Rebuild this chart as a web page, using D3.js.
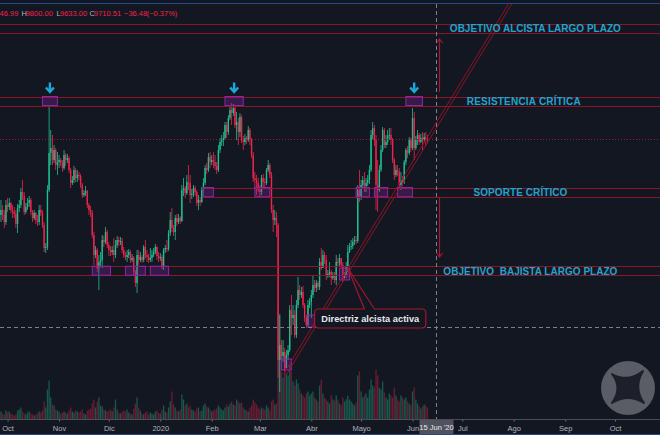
<!DOCTYPE html>
<html lang="es">
<head>
<meta charset="UTF-8">
<title>BTC diario - niveles clave</title>
<script src="https://d3js.org/d3.v7.min.js"></script>
<style>
  html, body { margin: 0; padding: 0; background: #131722; overflow: hidden; }
  svg { display: block; }
</style>
</head>
<body>
<script>
// velas diarias [máximo, mínimo, cierre], la apertura es el cierre anterior
const firstOpen = 8200;
const firstDay = "2019-09-27";
const sep19 = [[8500,8060,8300],[8400,8100,8200],[8300,7940,8060],[8500,8000,8400]];
const oct19 = [
  [8540,8260,8360],[8540,8300,8440],[8460,8240,8300],[8400,8140,8260],[8360,8140,8220],
  [8300,7940,8020],[8420,7840,8340],[8500,8260,8400],[8740,8340,8660],[8900,8500,8580],
  [8660,8200,8260],[8440,8220,8360],[8540,8300,8440],[8580,8360,8500],[8540,8200,8260],
  [8300,8060,8140],[8300,8100,8240],[8260,8020,8100],[8200,7980,8060],[8400,8000,8300],
  [8400,8180,8240],[8300,7940,8000],[8060,7460,7540],[7640,7440,7560],[8800,7500,8700],
  [10360,8660,9440],[9900,9200,9540],[9800,9200,9300],[9600,9240,9500],[9540,9100,9200],
  [9460,9000,9260]];
const nov19 = [
  [9400,9140,9300],[9340,9180,9240],[9300,9060,9140],[9500,9100,9400],[9440,9180,9300],
  [9420,9240,9340],[9380,9040,9100],[9140,8740,8840],[8980,8800,8900],[9180,8840,9100],
  [9140,8860,8940],[9100,8860,9000],[9060,8900,8980],[9020,8740,8800],[8840,8540,8600],
  [8700,8560,8640],[8780,8580,8680],[8700,8340,8400],[8440,8200,8300],[8380,8160,8240],
  [8300,7740,7800],[7860,7200,7400],[7580,7340,7500],[7540,7060,7140],[7400,6700,7260],
  [7460,7180,7300],[7800,7140,7700],[7780,7560,7660],[7960,7620,7860],[7900,7540,7600]];
const dec19 = [
  [7660,7380,7500],[7580,7380,7460],[7580,7400,7500],[7740,7260,7400],[7700,7340,7600],
  [7780,7540,7700],[7760,7580,7660],[7760,7600,7680],[7740,7440,7500],[7560,7340,7400],
  [7460,7300,7360],[7500,7260,7400],[7520,7340,7460],[7500,7240,7300],[7420,7260,7340],
  [7380,7000,7060],[7100,6760,6840],[7500,6640,7400],[7500,7200,7300],[7460,7260,7360],
  [7400,7240,7300],[7600,7260,7560],[7700,7340,7400],[7500,7260,7360],[7420,7240,7300],
  [7540,7260,7340],[7500,7260,7400],[7540,7360,7460],[7620,7420,7560],[7580,7300,7380],
  [7460,7260,7340]];
const jan20 = [
  [7440,7280,7360],[7400,7120,7180],[7540,7100,7500],[7600,7440,7540],[7700,7460,7520],
  [7900,7480,7840],[8260,7780,8100],[8340,7860,7940],[8000,7780,7860],[8200,7700,8140],
  [8220,7980,8060],[8220,8020,8140],[8180,8020,8080],[8800,8060,8700],[8940,8580,8740],
  [8780,8540,8640],[9000,8600,8860],[9200,8700,8840],[9000,8440,8600],[8720,8520,8620],
  [8800,8560,8740],[8780,8580,8660],[8700,8380,8440],[8600,8300,8500],[8560,8380,8460],
  [8760,8440,8700],[8940,8660,8840],[9200,8800,9140],[9240,9020,9100],[9440,9060,9360],
  [9460,9140,9260]];
const feb20 = [
  [9400,9200,9300],[9460,9140,9260],[9400,9100,9180],[9260,9020,9100],[9600,9060,9500],
  [9740,9440,9660],[9800,9580,9700],[9860,9580,9740],[10060,9700,10000],[10060,9740,9860],
  [10200,9800,10140],[10380,10100,10300],[10440,10000,10240],[10420,10180,10340],[10380,9940,10000],
  [10260,9700,10060],[10140,9600,9860],[10240,9760,10160],[10200,9640,9700],[9780,9500,9660],
  [9820,9600,9740],[9780,9620,9700],[9980,9660,9900],[9940,9600,9700],[9740,9340,9400],
  [9460,8860,8940],[9060,8740,8900],[9000,8600,8840],[8940,8660,8700]];
const mar20 = [
  [8800,8560,8660],[9000,8600,8940],[9020,8740,8860],[8940,8760,8840],[9140,8800,9100],
  [9300,9060,9200],[9240,8940,9000],[9060,8240,8300],[8400,7860,8100],[8300,8000,8140],
  [8260,7760,8000],[8040,4940,5300],[6200,4660,5600],[5700,5300,5380],[5700,5260,5460],
  [5540,5060,5140],[5500,5140,5400],[5600,5300,5500],[6400,5460,6300],[6600,5800,6140],
  [6400,6000,6200],[6300,5740,5800],[6500,5740,6400],[6960,6340,6700],[6800,6500,6600],
  [6760,6540,6660],[6780,6340,6400],[6440,6060,6140],[6200,5940,6000],[6500,5960,6400],
  [6540,6340,6460]];
const apr20 = [
  [6700,6140,6600],[7000,6540,6800],[6900,6660,6740],[6900,6660,6840],[6880,6700,6760],
  [7340,6700,7260],[7540,7100,7140],[7500,7140,7400],[7460,7220,7300],[7400,6900,7000],
  [7100,6940,7020],[7260,6960,7060],[7100,6800,6940],[7060,6900,6980],[7060,6840,6900],
  [7400,6800,7260],[7340,7160,7240],[7420,7180,7340],[7340,7140,7200],[7260,6860,6940],
  [7060,6900,6980],[7260,6940,7180],[7600,7060,7460],[7640,7440,7560],[7700,7500,7580],
  [7740,7520,7660],[7780,7600,7700],[7780,7620,7680],[8800,7640,8700],[9100,8460,8540]];
const may20 = [
  [8900,8500,8800],[8980,8740,8900],[9060,8660,8780],[8940,8660,8840],[9000,8780,8900],
  [9200,8820,9100],[9900,9060,9800],[10060,9700,9940],[10000,9580,9700],[9800,8300,8800],
  [9300,8260,8700],[9200,8660,9100],[9600,9060,9500],[9960,9460,9900],[9940,9540,9600],
  [9800,9540,9660],[9900,9600,9780],[9940,9700,9800],[9940,9600,9700],[9740,9240,9300],
  [9340,8900,9000],[9200,8960,9100],[9200,8980,9060],[9140,8740,8800],[9060,8700,8900],
  [8980,8780,8860],[9300,8820,9260],[9540,9200,9500],[9580,9340,9440],[9760,9400,9700],
  [9740,9460,9540]];
const jun20 = [
  [10340,9500,10140],[10260,9300,9540],[9780,9500,9700],[9900,9600,9800],[9840,9600,9660],
  [9820,9640,9740],[9860,9500,9700],[9840,9660,9760],[9860,9580,9746.99],[9800,9633,9710.51]];

// volumen diario (miles de BTC)
const volumes = [
  16,12,10,18,
  14,16,12,10,8,10,18,20,24,16,12,10,14,16,12,10,8,10,12,16,14,18,36,24,60,78,44,30,28,20,18,
  16,12,14,16,14,12,18,24,16,14,18,16,14,16,20,12,10,18,20,22,32,40,24,36,44,28,26,20,18,16,
  18,20,16,24,40,20,14,12,16,18,16,20,14,12,10,22,32,44,24,18,12,10,14,16,10,14,12,10,16,18,14,
  12,20,28,16,14,24,36,56,30,24,18,16,20,50,40,28,32,24,28,20,18,16,22,24,16,18,28,32,26,24,20,
  16,18,20,22,28,24,20,18,24,30,26,32,36,30,28,40,36,32,34,24,20,18,16,24,28,40,34,30,24,
  20,24,22,20,28,24,18,36,40,30,32,220,212,96,84,104,92,88,110,96,76,68,80,72,60,52,48,44,52,56,48,
  52,56,44,40,36,68,80,52,44,40,36,32,48,40,38,48,40,32,28,44,36,40,48,40,36,32,28,34,88,96,
  56,44,48,52,44,60,80,68,64,100,88,64,60,76,54,44,40,52,48,44,64,48,40,36,48,44,40,44,36,32,28,
  56,64,40,32,26,22,26,30,28,24];

// zonas horizontales (precio)
const zones = [
  {label: "OBJETIVO ALCISTA LARGO PLAZO", top: 12015, bottom: 11845, from: null},
  {label: "RESISTENCIA CRÍTICA", top: 10570, bottom: 10390, from: null},
  {label: "SOPORTE CRÍTICO", top: 8750, bottom: 8565, from: "2020-01-27"},
  {label: "OBJETIVO  BAJISTA LARGO PLAZO", top: 7175, bottom: 6995, from: null}
];

// rectángulos de toque [desde, hasta, precio alto, precio bajo]
const touches = [
  ["2019-10-22", "2019-10-31", 10570, 10390],
  ["2020-02-09", "2020-02-20", 10570, 10390],
  ["2020-05-28", "2020-06-07", 10570, 10390],
  ["2020-01-27", "2020-02-02", 8750, 8565],
  ["2020-02-27", "2020-03-07", 8750, 8565],
  ["2020-04-28", "2020-05-06", 8750, 8565],
  ["2020-05-09", "2020-05-17", 8750, 8565],
  ["2020-05-23", "2020-06-01", 8750, 8565],
  ["2019-11-21", "2019-12-02", 7175, 6995],
  ["2019-12-11", "2019-12-23", 7175, 6995],
  ["2019-12-26", "2020-01-06", 7175, 6995],
  ["2020-04-18", "2020-04-24", 7140, 6900],
  ["2020-03-30", "2020-04-04", 6200, 5960],
  ["2020-03-14", "2020-03-20", 5320, 5100]
];

// canal alcista (dos paralelas)
const channel = [
  [["2020-03-15", 5006], ["2020-07-30", 12486]],
  [["2020-03-17", 5006], ["2020-08-01", 12486]]
];

// objetivos: flechas verticales [fecha, precio desde, precio hasta]
const targets = [["2020-06-17", 10660, 11720], ["2020-06-17", 8560, 7360]];

const monthLabels = ["Oct", "Nov", "Dic", "2020", "Feb", "Mar", "Abr", "Mayo", "Jun", "Jul", "Ago", "Sep", "Oct"];
const crossDate = "2020-06-15", crossPrice = 5970;

// ---------------------------------------------------------------
const width = 660, height = 435;
const paneTop = 4, axisY = 419.5;
const font = "'Liberation Sans', Arial, sans-serif";
const up = "#1fbf8f", down = "#f0234b", lvl = "#8e1426", cyan = "#22a4cc";

const parse = d3.utcParse("%Y-%m-%d");
const x = d3.scaleUtc()
    .domain([new Date(Date.UTC(2019, 9, 1)), new Date(Date.UTC(2020, 9, 1))])
    .range([7.6, 615]);
const y = d3.scaleLinear().domain([4800, 12200]).range([385, 15]);
const vh = d3.scaleLinear().domain([0, 300]).range([0, 150]);
const px = v => Math.round(y(v)) + 0.5;

const rows = [].concat(sep19, oct19, nov19, dec19, jan20, feb20, mar20, apr20, may20, jun20);
const day = d3.utcDay.offset;
let prev = firstOpen;
const candles = rows.map(([h, l, c], i) => {
  const o = prev; prev = c;
  return {date: day(parse(firstDay), i), o, c, h: Math.max(h, o, c), l: Math.min(l, o, c), v: volumes[i]};
});

const svg = d3.select("body").append("svg")
    .attr("width", width)
    .attr("height", height)
    .attr("font-family", font);

svg.append("rect").attr("width", width).attr("height", height).attr("fill", "#131722");

svg.append("defs").append("clipPath").attr("id", "pane")
  .append("rect").attr("x", 0).attr("y", paneTop).attr("width", width).attr("height", axisY - paneTop);

const pane = svg.append("g").attr("clip-path", "url(#pane)");

// volumen
pane.append("g")
  .selectAll()
  .data(candles)
  .join("rect")
    .attr("x", d => x(d.date) - 0.65)
    .attr("width", 1.3)
    .attr("y", d => axisY - vh(d.v))
    .attr("height", d => vh(d.v))
    .attr("fill", d => d.c >= d.o ? "rgba(31,191,143,0.4)" : "rgba(240,35,75,0.4)");

// velas
const cg = pane.append("g")
  .selectAll()
  .data(candles)
  .join("g")
    .attr("fill", d => d.c >= d.o ? up : down);
cg.append("rect")
    .attr("x", d => x(d.date) - 0.4)
    .attr("width", 0.8)
    .attr("y", d => y(d.h))
    .attr("height", d => Math.max(0.8, y(d.l) - y(d.h)));
cg.append("rect")
    .attr("x", d => x(d.date) - 0.7)
    .attr("width", 1.4)
    .attr("y", d => y(Math.max(d.o, d.c)))
    .attr("height", d => Math.max(1, Math.abs(y(d.o) - y(d.c))));

const last = candles[candles.length - 1];

// línea de precio actual
pane.append("line")
    .attr("x1", 0).attr("x2", width)
    .attr("y1", y(last.c)).attr("y2", y(last.c))
    .attr("stroke", "#a3182f")
    .attr("stroke-dasharray", "1,2");

// zonas
const zg = pane.append("g").attr("stroke", lvl).attr("stroke-width", 1);
zones.forEach(z => {
  const x0 = z.from ? x(parse(z.from)) : 0;
  [z.top, z.bottom].forEach(v => zg.append("line")
      .attr("x1", x0).attr("x2", width).attr("y1", px(v)).attr("y2", px(v)));
});

// rectángulos de toque
pane.append("g")
  .selectAll()
  .data(touches)
  .join("rect")
    .attr("x", d => x(parse(d[0])))
    .attr("width", d => x(parse(d[1])) - x(parse(d[0])))
    .attr("y", d => y(d[2]))
    .attr("height", d => y(d[3]) - y(d[2]))
    .attr("fill", "rgba(150,40,170,0.28)")
    .attr("stroke", "#8e24aa")
    .attr("stroke-width", 1);

// canal
pane.append("g")
  .selectAll()
  .data(channel)
  .join("line")
    .attr("x1", d => x(parse(d[0][0]))).attr("y1", d => y(d[0][1]))
    .attr("x2", d => x(parse(d[1][0]))).attr("y2", d => y(d[1][1]))
    .attr("stroke", lvl)
    .attr("stroke-width", 1);

// flechas de los máximos
pane.append("g")
  .selectAll()
  .data(touches.slice(0, 3))
  .join("path")
    .attr("d", d => {
      const cx = (x(parse(d[0])) + x(parse(d[1]))) / 2, tip = y(d[2]) - 4.5;
      return `M${cx},${tip - 9.5}L${cx},${tip}M${cx - 4},${tip - 4.5}L${cx},${tip}L${cx + 4},${tip - 4.5}`;
    })
    .attr("fill", "none")
    .attr("stroke", "#1ea7da")
    .attr("stroke-width", 2.4);

// flechas de objetivo
pane.append("g")
  .selectAll()
  .data(targets)
  .join("path")
    .attr("d", d => {
      const cx = Math.round(x(parse(d[0]))) + 0.5, y0 = y(d[1]), y1 = y(d[2]);
      const s = y1 < y0 ? 1 : -1;
      return `M${cx},${y0}L${cx},${y1}M${cx - 3},${y1 + 4 * s}L${cx},${y1}L${cx + 3},${y1 + 4 * s}`;
    })
    .attr("fill", "none")
    .attr("stroke", "#a3162f")
    .attr("stroke-width", 1.2);

// textos de zona
const labelAt = ["2020-08-14", "2020-08-07", "2020-08-05", "2020-08-11"];
const labelLen = [171, 114, 94, 174];
pane.append("g")
  .selectAll()
  .data(zones)
  .join("text")
    .attr("x", (d, i) => x(parse(labelAt[i])) - labelLen[i] / 2)
    .attr("y", d => y(d.bottom) - 0.5)
    .attr("textLength", (d, i) => labelLen[i])
    .attr("lengthAdjust", "spacing")
    .attr("fill", cyan)
    .attr("font-size", 10)
    .attr("font-weight", "bold")
    .style("white-space", "pre")
    .text(d => d.label);

// cruz del cursor
const cx0 = Math.round(x(parse(crossDate))) + 0.5, cy0 = Math.round(y(crossPrice)) + 0.5;
const cross = svg.append("g").attr("stroke", "#7d808b").attr("stroke-dasharray", "4,3");
cross.append("line").attr("x1", cx0).attr("x2", cx0).attr("y1", paneTop).attr("y2", axisY);
cross.append("line").attr("x1", 0).attr("x2", width).attr("y1", cy0).attr("y2", cy0);

// nota "Directriz alcista activa"
{
  const x1 = x(parse("2020-04-03")), x2 = x(parse("2020-06-09"));
  const t = y(6320), b = y(5940), r = 4;
  const tx = x(parse("2020-04-23")), ty = y(7140);
  const b1 = x(parse("2020-05-03")), b2 = x(parse("2020-05-09"));
  const p = `M${x1 + r},${t}L${b1},${t}L${tx},${ty}L${b2},${t}L${x2 - r},${t}` +
    `Q${x2},${t} ${x2},${t + r}L${x2},${b - r}Q${x2},${b} ${x2 - r},${b}` +
    `L${x1 + r},${b}Q${x1},${b} ${x1},${b - r}L${x1},${t + r}Q${x1},${t} ${x1 + r},${t}Z`;
  svg.append("path").attr("d", p).attr("fill", "#131722").attr("stroke", "#a3162f").attr("stroke-width", 1.2);
  svg.append("text")
      .attr("x", (x1 + x2) / 2)
      .attr("y", (t + b) / 2 + 3.2)
      .attr("text-anchor", "middle")
      .attr("textLength", 98)
      .attr("fill", "#e9eaee")
      .attr("font-size", 9.2)
      .attr("font-weight", "bold")
      .text("Directriz alcista activa");
}

// marca de agua
{
  const cx = 628, cy = 388;
  svg.append("circle").attr("cx", cx).attr("cy", cy).attr("r", 27).attr("fill", "#5a5c66");
  svg.append("path")
      .attr("d", `M${cx - 16},${cy - 14}Q${cx},${cy - 5} ${cx + 15},${cy - 17}Q${cx + 5},${cy} ${cx + 16},${cy + 15}` +
                 `Q${cx},${cy + 5} ${cx - 16},${cy + 15}Q${cx - 5},${cy} ${cx - 16},${cy - 14}Z`)
      .attr("fill", "#1d202b")
      .attr("stroke", "#1d202b")
      .attr("stroke-width", 2)
      .attr("stroke-linejoin", "round");
}

// eje temporal
const months = d3.utcMonths(new Date(Date.UTC(2019, 9, 1)), new Date(Date.UTC(2020, 9, 2)));
const ax = svg.append("g")
    .attr("transform", `translate(0,${axisY})`)
    .call(d3.axisBottom(x).tickValues(months).tickFormat((d, i) => monthLabels[i]).tickSize(2).tickPadding(4));
ax.select(".domain").remove();
ax.selectAll("line").attr("stroke", "#6b6f7a");
ax.selectAll("text").attr("fill", "#b2b5be").attr("font-size", 7.5).attr("font-family", font);
svg.append("line").attr("x1", 0).attr("x2", width).attr("y1", axisY).attr("y2", axisY).attr("stroke", "#4a4e59");

// etiqueta de fecha del cursor
svg.append("rect").attr("x", cx0 - 17).attr("y", axisY + 0.5).attr("width", 34).attr("height", 14).attr("fill", "#50535e");
svg.append("text")
    .attr("x", cx0).attr("y", axisY + 10.5)
    .attr("text-anchor", "middle")
    .attr("fill", "#e6e7ea")
    .attr("font-size", 7.5)
    .text(d3.utcFormat("%d Jun '%y")(parse(crossDate)));

// bordes azules
svg.append("line").attr("x1", 0).attr("x2", width).attr("y1", 3.5).attr("y2", 3.5).attr("stroke", "#214a8f");
svg.append("line").attr("x1", 0).attr("x2", width).attr("y1", 434.5).attr("y2", 434.5).attr("stroke", "#214a8f");

// cabecera OHLC (recortada por la izquierda, como en la captura)
const fmt = d3.format(".2f");
const chg = last.c - last.o;
const head = [
  ["O", -14.9, "#b2b5be"], [fmt(last.o), -8.8, down],
  ["H", 21.5, "#b2b5be"], [fmt(last.h), 25.7, down],
  ["L", 56.5, "#b2b5be"], [fmt(last.l), 60, down],
  ["C", 89.5, "#b2b5be"], [fmt(last.c), 94, down],
  [fmt(chg), 124, down], [`(${fmt(chg / last.o * 100)}%)`, 146.7, down]
];
svg.append("g")
  .selectAll()
  .data(head)
  .join("text")
    .attr("x", d => d[1])
    .attr("y", 15.5)
    .attr("fill", d => d[2])
    .attr("font-size", 7.5)
    .text(d => d[0]);
</script>
</body>
</html>
